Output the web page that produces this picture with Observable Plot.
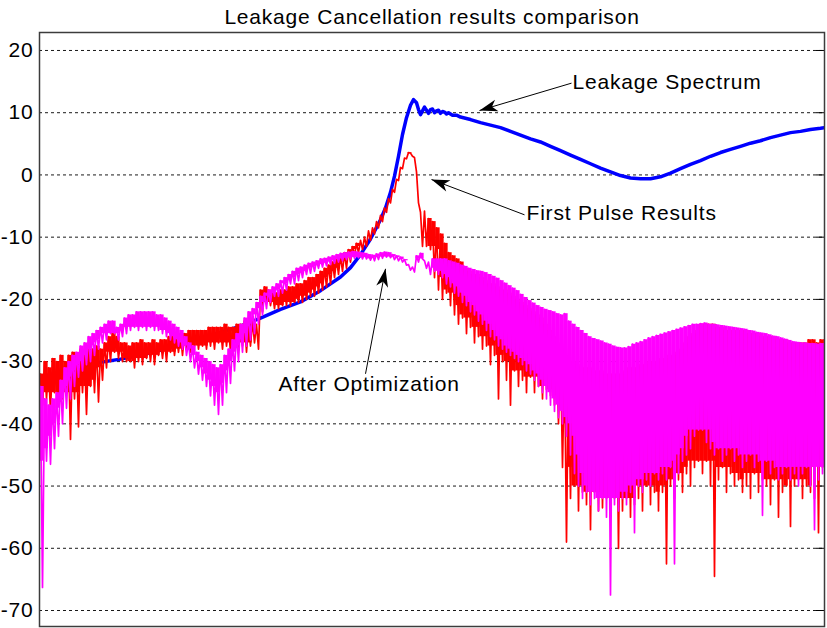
<!DOCTYPE html>
<html><head><meta charset="utf-8">
<script src="https://cdn.jsdelivr.net/npm/d3@7"></script>
<script src="https://cdn.jsdelivr.net/npm/@observablehq/plot@0.6"></script>
<style>body{margin:0;background:#fff;}</style>
</head><body><div id="chart"></div>
<script>
const titleText = "Leakage Cancellation results comparison";
const yTicks = [20, 10, 0, -10, -20, -30, -40, -50, -60, -70];
const xDomain = [0, 785];
const yDomain = [-72.57, 22.89];

// Leakage Spectrum (blue)
const blueBin = [1,21,41,61,81,101,121,141,161,181,201,221,241,261,281,301,311,321,331,341,346,351,355,359,363,367,371,374,377,379,381,383,385,387,389,391,393,395,397,399,401,403,405,407,409,413,417,421,431,441,451,461,471,481,491,501,511,521,531,541,551,561,571,581,591,601,611,621,631,641,651,661,671,681,691,701,711,721,731,741,751,761,771,781,785];
const blueDb = [-32.5,-31.6,-30.8,-30.1,-29.6,-29.0,-28.2,-27.2,-26.2,-25.3,-24.3,-23.0,-21.6,-20.4,-18.6,-16.4,-14.9,-12.8,-10.3,-7.2,-5.3,-2.8,-0.2,3.0,6.5,9.2,11.2,12.1,11.6,10.5,9.7,10.3,10.9,10.4,9.9,10.5,10.6,10.0,10.3,10.4,9.9,10.2,10.1,9.8,10.0,9.6,9.6,9.3,8.9,8.4,8.0,7.6,7.0,6.4,5.8,5.3,4.6,3.9,3.2,2.5,1.8,1.1,0.5,-0.1,-0.5,-0.6,-0.6,-0.3,0.3,1.0,1.7,2.3,3.0,3.6,4.1,4.6,5.1,5.5,6.0,6.4,6.8,7.0,7.3,7.5,7.6];

// First Pulse Results (red): readings every 4 bins from bin 1, upper at bin, lower at bin+2
const redUpper = [
-32,-30,-31,-29.5,-30,-29,-30,-29,-28.5,-29,
-28,-28.5,-28,-28,-27.5,-28,-27,-26,-25.3,-26,
-27,-27,-27.5,-27,-27,-26.5,-27,-27,-26.5,-27,
-26.5,-26.5,-26,-25.5,-26,-25.5,-25.5,-25,-25,-25,
-25,-25,-24.5,-24.5,-24.5,-24.5,-24,-24.5,-24.5,-24,
-24,-23.5,-24,-23.5,-24,-18.5,-18,-18.5,-19,-19,
-18.5,-18.5,-18,-18,-17.5,-17.5,-17,-16.5,-16.5,-16,
-15.5,-15,-14.5,-14,-13.5,-13,-12.5,-12,-11.5,-11,
-10.5,-10,-9,-8.5,-7.5,-6.5,-5.3,-3.8,-2.3,-0.7,
1.2,2.7,3.6,3.0,0.5,-6,-5.8,-7,-7.5,-8.5,
-9.5,-11,-12.5,-13,-13.5,-14,-15,-15.5,-16,-16,
-16.5,-17,-17.5,-17.5,-18,-18.5,-18.5,-19,-19.5,-20,
-20.5,-21,-21.5,-22,-22.5,-23,-24,-25,-26,-27,
-28,-29,-30,-30,-30.5,-31,-31,-31,-31.5,-31.5,
-31.5,-32,-32,-32,-32,-32,-31.5,-31,-31,-31,
-30.5,-30.5,-30,-30,-30,-29.5,-29.5,-29,-29,-28.5,
-28,-27,-26,-25.5,-25,-24,-24,-24,-24,-24.5,
-24.5,-25,-25,-25,-25,-25,-25,-25.5,-25.5,-25.5,
-26,-26,-26,-26,-26.5,-26.5,-26.5,-27,-27,-27,
-27,-27,-26.5,-26.5,-27,-26.5,-26.5];
const redLower = [
-37,-36,-38,-35,-37,-36,-35,-42.5,-36,-40.5,
-35,-38.5,-34,-35,-36.5,-33,-31,-30,-28.5,-29.5,
-30,-30,-30,-31,-30,-30.5,-29.5,-30,-30.5,-29,
-29.5,-30,-28.5,-29,-28.5,-29,-28,-28.5,-27.5,-28,
-27.5,-28,-27.5,-28,-27,-28,-27.5,-28.5,-27,-28,
-27.5,-28.5,-27.5,-27,-28,-22,-20.5,-21,-21.5,-21.5,
-21,-21,-21,-20.5,-20.5,-20.5,-20,-19.5,-19.5,-19,
-18.5,-18,-17.5,-16.5,-16,-15.5,-15,-14,-13,-12.5,
-12,-11.5,-10.5,-9.5,-8.5,-7.5,-6,-4.5,-2.8,-0.9,
1.0,2.6,3.5,2.8,-4.5,-11.5,-11.5,-12,-16.5,-18.5,
-20,-19,-21,-22.5,-24,-23,-25.5,-24.5,-27,-26,
-28,-27.5,-30.5,-29,-36,-30,-33,-37,-31.5,-34,
-33,-35,-32.5,-35,-34,-36,-34.5,-35.5,-37,-40,
-47,-59,-52,-50,-54,-51,-53,-57,-51,-54,
-53.5,-52,-55,-52,-60,-54,-52,-55,-53,-52,
-54,-50,-53,-51,-54,-51,-62.5,-50,-52,-49,
-51,-48,-50,-47,-46,-48,-46,-50,-64.5,-49,
-47,-51,-48,-50,-49,-51,-50,-52,-48,-51,
-49,-50,-53,-49,-55,-51,-50,-56.5,-50,-49,
-52,-50,-51,-52,-57.5,-47,-46];

// After Optimization (magenta): same sampling
const magUpper = [
-34,-36,-37,-36,-35,-33,-31,-30,-29,-28.5,
-27.5,-27,-26,-25.5,-25,-24.5,-24,-23.5,-23.5,-24.5,
-24,-23,-22.5,-22.5,-22,-22,-22,-22,-22,-22.5,
-22.5,-23,-23.5,-24,-24.5,-25,-26,-27,-27.5,-28.5,
-29,-29.5,-30,-30.5,-31,-30.5,-29,-28,-26.5,-25.5,
-24,-23,-22,-21.5,-20.5,-19.5,-19,-18.5,-18,-17.5,
-17,-16.5,-16,-15.5,-15,-14.8,-14.5,-14.2,-14,-13.8,
-13.5,-13.4,-13.2,-13,-12.8,-12.6,-12.5,-12.4,-12.3,-12.4,
-12.5,-12.6,-12.8,-12.9,-12.7,-12.5,-12.4,-12.5,-12.8,-13,
-13.2,-13.6,-14.4,-14.8,-13,-12.6,-13.8,-14,-13.5,-13.5,
-13.5,-13.5,-13.8,-14,-14.2,-14.5,-14.7,-15,-15.2,-15.4,
-15.5,-15.7,-16,-16.3,-16.6,-17,-17.4,-17.8,-18.2,-18.6,
-19.2,-19.7,-20.2,-20.6,-21,-21.3,-21.6,-21.8,-22,-22.3,
-22.5,-22.3,-23.5,-24,-24.5,-25,-25.5,-26,-26.3,-26.5,
-26.7,-27,-27.2,-27.5,-27.7,-27.8,-27.8,-27.6,-27.2,-27,
-26.8,-26.5,-26.2,-26,-25.8,-25.6,-25.4,-25.2,-25,-24.8,
-24.6,-24.4,-24.2,-24,-24,-23.9,-23.8,-24,-24,-24.1,
-24.2,-24.3,-24.4,-24.5,-24.6,-24.7,-24.8,-25,-25.1,-25.3,
-25.4,-25.5,-25.7,-25.9,-26,-26.2,-26.4,-26.6,-26.8,-26.9,
-27,-27,-27.1,-27.1,-27.2,-27.1,-27.1];
const magLower = [
-66.3,-46,-46.5,-44,-42,-40,-37.5,-36,-34,-32.5,
-31.5,-30.5,-30,-29,-28,-27,-26.5,-25.5,-25.5,-26.5,
-26,-25.5,-25,-24.5,-25,-24.5,-25,-24.5,-25,-25,
-25.5,-26,-26.5,-27,-27.5,-28,-29,-30,-31,-32,
-33,-34,-35.5,-37,-38.5,-37,-35,-33.5,-31.5,-30,
-28.5,-27.5,-26.5,-25.5,-24,-22.5,-21.5,-20.5,-19.5,-19.5,
-19,-18.5,-17.5,-17.5,-17,-16.5,-16,-15.8,-15.5,-15,
-14.8,-14.6,-14.4,-14.2,-14,-13.8,-13.6,-13.5,-13.4,-13.3,
-13.5,-13.5,-13.7,-13.8,-13.6,-13.4,-13.2,-13.3,-13.6,-13.8,
-14,-14.5,-15.3,-15.6,-14,-13.5,-15,-16,-15.5,-16,
-16.5,-17.5,-18,-19,-19.5,-20.5,-21,-22,-22.5,-23.5,
-24,-25,-26,-26.5,-27.5,-28,-28.5,-29,-29.5,-30,
-30.5,-31.5,-32,-33,-34,-35,-36,-37,-38,-39,
-40,-42,-45,-48,-50,-52,-51,-53,-52,-54,
-52,-55,-67.5,-53,-54,-52,-53,-51,-57.5,-50,
-51,-49,-50,-48,-49,-48,-49,-47,-62.5,-48,
-46,-45,-44,-42,-41,-41,-43,-44,-45,-44,
-46,-45,-44,-46,-45,-47,-46,-45,-47,-46,
-54.7,-46,-48,-47,-49,-48,-47,-49,-48,-50,
-48,-47,-50,-57,-49,-48,-47];

// Annotations
const noteText = ["Leakage Spectrum", "First Pulse Results", "After Optimization"];
const noteBin = [533, 487, 239];
const noteDb = [14.93, -6.12, -33.6];
const arrowFromBin = [532, 485, 326];
const arrowFromDb = [14.75, -6.41, -31.96];
const arrowToBin = [440, 392, 346];
const arrowToDb = [10.35, -0.74, -15.09];

// ---- build tables ----
const blue = blueBin.map((b, i) => ({bin: b, db: blueDb[i]}));
const zig = (up, lo) => up.flatMap((u, k) => [{bin: 1 + 4 * k, db: u}, {bin: 3 + 4 * k, db: lo[k]}]);
// solid part of each dense trace: from the upper reading down to where neighbouring readings all reach
const core = (up, lo) => up.map((u, k) => {
  const win = [lo[k - 2], lo[k - 1], lo[k], lo[k + 1], lo[k + 2]].filter(v => v !== undefined);
  return {bin: 2 + 4 * k, top: u, bottom: Math.min(Math.max(...win), u)};
});
const red = zig(redUpper, redLower);
const mag = zig(magUpper, magLower);
const redCore = core(redUpper, redLower);
const magCore = core(magUpper, magLower);
const notes = noteText.map((t, i) => ({text: t, bin: noteBin[i], db: noteDb[i]}));
const arrows = noteText.map((t, i) => ({x1: arrowFromBin[i], y1: arrowFromDb[i], x2: arrowToBin[i], y2: arrowToDb[i]}));

const W = 827, H = 628, mT = 32, mB = 2, mL = 39, mR = 3;
const X = Plot.scale({x: {domain: xDomain, range: [mL, W - mR]}});
const Y = Plot.scale({y: {domain: yDomain, range: [H - mB, mT]}});
const angle = d => Math.atan2(Y.apply(d.y2) - Y.apply(d.y1), X.apply(d.x2) - X.apply(d.x1)) * 180 / Math.PI;
const arrowHead = {draw(ctx) { ctx.moveTo(0, 0); ctx.lineTo(-18, -6); ctx.lineTo(-13, 0); ctx.lineTo(-18, 6); ctx.closePath(); }};

const chart = Plot.plot({
  width: W, height: H,
  marginTop: mT, marginBottom: mB, marginLeft: mL, marginRight: mR,
  style: "font-family: 'Liberation Sans', Arial, sans-serif; font-size: 21px; letter-spacing: 0.8px; background: #fff; overflow: visible;",
  x: {domain: xDomain, axis: null},
  y: {domain: yDomain, label: null},
  marks: [
    Plot.gridY(yTicks, {stroke: "black", strokeOpacity: 0.9, strokeWidth: 1, strokeDasharray: "3,3"}),
    Plot.ruleY(yTicks, {x1: 777, x2: 785, stroke: "black", strokeWidth: 1}),
    Plot.axisY(yTicks, {tickSize: 0, tickPadding: 6, tickFormat: d => String(d), label: null, fontSize: 21, fill: "black"}),
    Plot.line(blue, {x: "bin", y: "db", stroke: "#0000ff", strokeWidth: 3.5, clip: true}),
    Plot.ruleX(redCore, {x: "bin", y1: "top", y2: "bottom", stroke: "#ff0000", strokeWidth: 4.3, clip: true}),
    Plot.line(red, {x: "bin", y: "db", stroke: "#ff0000", strokeWidth: 1.7, clip: true}),
    Plot.ruleX(magCore, {x: "bin", y1: "top", y2: "bottom", stroke: "#ff00ff", strokeWidth: 4.3, clip: true}),
    Plot.line(mag, {x: "bin", y: "db", stroke: "#ff00ff", strokeWidth: 1.7, clip: true}),
    Plot.frame({stroke: "#3c3c3c", strokeWidth: 1.5}),
    Plot.link(arrows, {x1: "x1", y1: "y1", x2: "x2", y2: "y2", stroke: "black", strokeWidth: 1}),
    Plot.dot(arrows, {x: "x2", y: "y2", symbol: arrowHead, rotate: angle, fill: "black", stroke: "none", r: 6}),
    Plot.text(notes, {x: "bin", y: "db", text: "text", textAnchor: "start", lineAnchor: "middle", fontSize: 21, fill: "black"}),
    Plot.text([titleText], {text: d => d, frameAnchor: "top", dy: -15, lineAnchor: "middle", fontSize: 21, fill: "black"})
  ]
});
document.getElementById("chart").appendChild(chart);
</script>
</body></html>
